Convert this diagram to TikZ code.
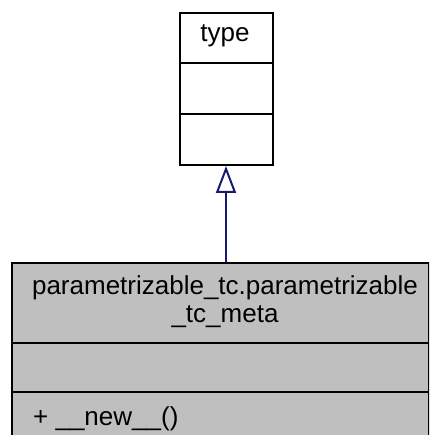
\documentclass[tikz,border=0pt]{standalone}
\usepackage{fontspec}
\setmainfont{Liberation Sans}
\usetikzlibrary{arrows.meta}
\definecolor{navyline}{HTML}{191970}
\definecolor{boxgray}{HTML}{BFBFBF}
\tikzset{
  umlbox/.style={draw=black, line width=2pt, inner sep=0pt, anchor=north west},
  divider/.style={draw=black, line width=2pt},
  lbl/.style={inner sep=0pt, anchor=base, font=\fontsize{26pt}{28pt}\selectfont},
  inherit/.style={draw=navyline, line width=2pt, -{Triangle[open, length=27pt, width=20pt, line width=2pt]}}
}
\begin{document}
\begin{tikzpicture}[x=1pt,y=1pt]
\useasboundingbox (0,0) rectangle (429,-435);
\clip (0,0) rectangle (429,-435);
% base class
\node[umlbox, fill=white, minimum width=93pt, minimum height=151.5pt] (type) at (178.5,-12.5) {};
\draw[divider] (178.5,-63) -- (271.5,-63);
\draw[divider] (178.5,-114) -- (271.5,-114);
\node[lbl] (typelbl) at (225,-42) {type};
% derived class
\node[umlbox, fill=boxgray, minimum width=417pt, minimum height=200pt] (meta) at (11,-262) {};
\draw[divider] (11,-343) -- (428,-343);
\draw[divider] (11,-392) -- (428,-392);
\node[lbl] (metalbl1) at (225,-294) {parametrizable\_tc.parametrizable};
\node[lbl] (metalbl2) at (225,-322) {\_tc\_meta};
\node[lbl, anchor=base west] (newlbl) at (33,-425) {+ \_\_new\_\_()};
% inheritance
\draw[inherit] (meta.north -| type.south) -- (type.south);
\end{tikzpicture}
\end{document}
